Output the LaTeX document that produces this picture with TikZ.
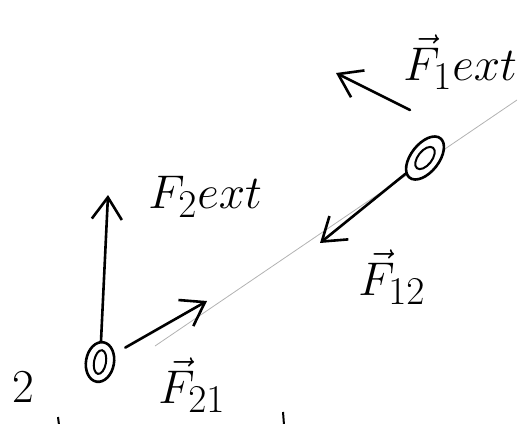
\documentclass[tikz,border=0pt]{standalone}
\usetikzlibrary{arrows.meta,shapes.geometric}
\begin{document}
\begin{tikzpicture}[x=1pt,y=-1pt,
    force/.style={line width=2.6pt,line cap=round,-{Straight Barb[length=22pt,width=30pt]}},
    particle/.style={draw,ellipse,line width=2.6pt,fill=white,inner sep=0pt},
    lbl/.style={inner sep=0pt,anchor=base west,font=\Huge,scale=1.9}]
  \useasboundingbox (0,0) rectangle (521,423);

  % line through the two particles
  \coordinate (lstart) at (155,346);
  \coordinate (lend) at (517,100);
  \draw[gray!60,line width=0.8pt] (lstart) -- (lend);

  % particles
  \node[particle,minimum width=28pt,minimum height=40pt,rotate=-10] (p2) at (100,362) {};
  \draw[line width=2pt,rotate around={-10:(p2)}] (p2) ellipse [x radius=6,y radius=12];
  \node[particle,minimum width=50pt,minimum height=28pt,rotate=52] (p1) at (425,158) {};
  \draw[line width=2pt,rotate around={52:(p1)}] (p1) ellipse [x radius=13,y radius=7];

  % force tips
  \coordinate (t2ext) at (108,195);
  \coordinate (t21) at (207,301);
  \coordinate (t12) at (320,243);
  \coordinate (f1tail) at (410,110);
  \coordinate (t1ext) at (336,73);

  % forces
  \draw[force] (p2) -- (t2ext);
  \draw[force,shorten <=12pt] (p2) -- (t21);
  \draw[force] (p1) -- (t12);
  \draw[force] (f1tail) -- (t1ext);

  % labels
  \node[lbl] (l1ext) at (403,80) {$\vec{F}_1 ext$};
  \node[lbl] (l2ext) at (148,208) {$F_2 ext$};
  \node[lbl] (l12) at (358,295) {$\vec{F}_{12}$};
  \node[lbl] (l21) at (158,403) {$\vec{F}_{21}$};
  \node[lbl] (l2) at (12,402) {2};

  % strokes cut off at the bottom edge
  \coordinate (ka) at (58,417);
  \coordinate (kb) at (283,412);
  \draw[line width=2pt] (ka) -- ++(1,8);
  \draw[line width=2pt] (kb) -- ++(1,13);
\end{tikzpicture}
\end{document}
